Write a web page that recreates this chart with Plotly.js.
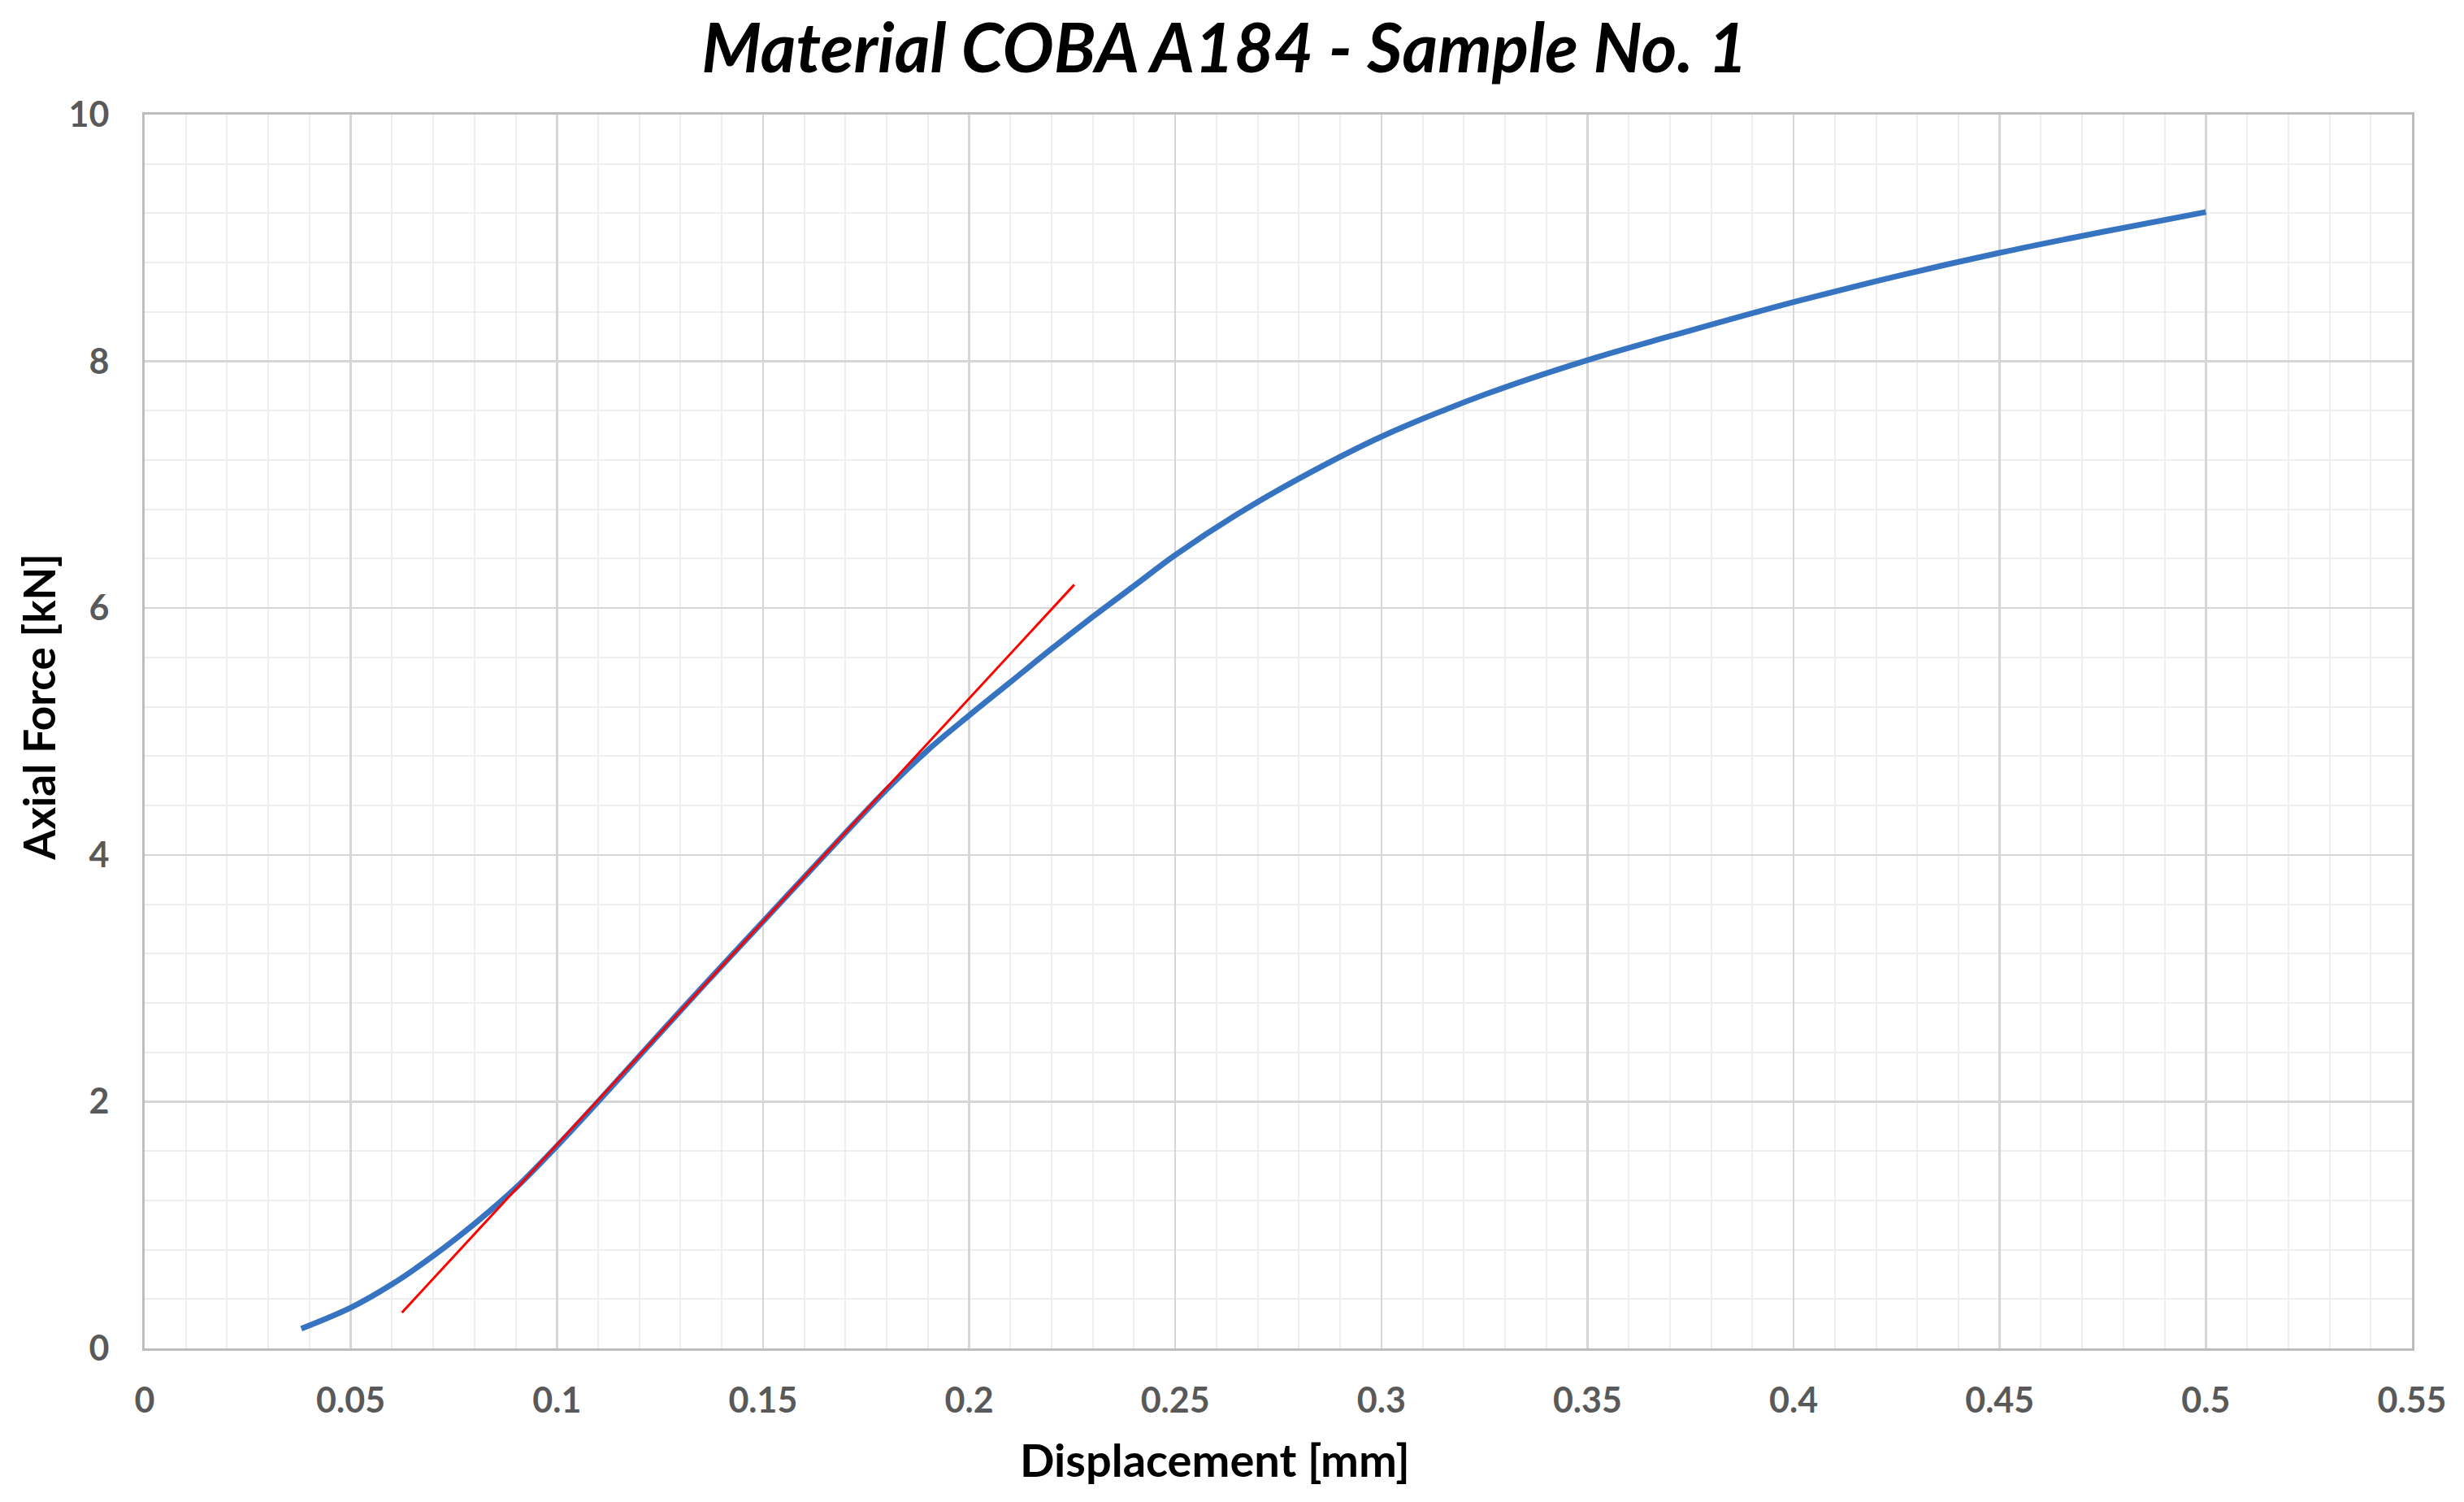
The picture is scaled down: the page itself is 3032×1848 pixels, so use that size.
<!DOCTYPE html>
<html>
<head>
<meta charset="utf-8">
<script src="https://cdn.plot.ly/plotly-3.0.1.min.js"></script>
<style>
html,body{margin:0;padding:0;background:#fff}
#chart{width:3032px;height:1848px}
</style>
</head>
<body>
<div id="chart"></div>
<script>
const disp = [0.038,0.05,0.06,0.07,0.08,0.09,0.10,0.11,0.12,0.135,0.15,0.165,0.18,0.19,0.20,0.21,0.22,0.23,0.24,0.25,0.265,0.28,0.30,0.325,0.35,0.375,0.40,0.425,0.45,0.475,0.50]
const force = [0.16,0.33,0.52,0.75,1.01,1.30,1.64,2.00,2.37,2.92,3.46,4.00,4.53,4.85,5.13,5.40,5.67,5.93,6.18,6.43,6.76,7.05,7.39,7.73,8.01,8.25,8.48,8.69,8.88,9.05,9.21]
// linear fit (red)
const fitX = [0.0624,0.2255]
const fitY = [0.29,6.19]

const xTicks = [0,0.05,0.1,0.15,0.2,0.25,0.3,0.35,0.4,0.45,0.5,0.55]
const xLabels = ['0','0.05','0.1','0.15','0.2','0.25','0.3','0.35','0.4','0.45','0.5','0.55']
const yTicks = [0,2,4,6,8,10]
const yLabels = ['0','2','4','6','8','10']

const font = 'Lato, "Open Sans", sans-serif'

let curve = {
    x: disp, y: force,
    type: 'scatter', mode: 'lines',
    line: {color:'#3674c2', width:7, shape:'spline', smoothing:1},
    hoverinfo: 'skip'
}
let fit = {
    x: fitX, y: fitY,
    type: 'scatter', mode: 'lines',
    line: {color:'#ff0000', width:3},
    hoverinfo: 'skip'
}

let axisCommon = {
    showline: true, mirror: true, linecolor:'#bdbdbd', linewidth:3,
    showgrid: true, gridcolor:'#d6d6d6', gridwidth:2.5,
    zeroline: false, ticks: '',
    tickfont: {family:font, size:43, color:'#595959', weight:'bold'},
    tickmode: 'array'
}

let layout = {
    width:3032, height:1848,
    paper_bgcolor:'#fff', plot_bgcolor:'#fff',
    margin:{l:178, r:64, t:141, b:189},
    showlegend:false,
    title:{
        text:'<b><i>Material COBA A184 - Sample No. 1</i></b>',
        font:{family:font, size:84, color:'#000'},
        x:0.497, xref:'container', y:0.968, yref:'container', yanchor:'middle'
    },
    xaxis: Object.assign({}, axisCommon, {
        range:[0,0.55],
        tickvals:xTicks, ticktext:xLabels,
        ticklabelstandoff:24,
        minor:{dtick:0.01, tick0:0, showgrid:true, gridcolor:'#eeeeee', gridwidth:2}
    }),
    yaxis: Object.assign({}, axisCommon, {
        range:[0,10],
        tickvals:yTicks, ticktext:yLabels,
        ticklabelstandoff:32,
        minor:{dtick:0.4, tick0:0, showgrid:true, gridcolor:'#eeeeee', gridwidth:2}
    }),
    // axis titles sit off-centre in the original, so place them as annotations
    annotations:[
        {text:'<b>Displacement [mm]</b>', xref:'paper', yref:'paper', x:0.472, y:-0.0896,
         xanchor:'center', yanchor:'middle', showarrow:false,
         font:{family:font, size:56, color:'#000'}},
        {text:'<b>Axial Force [kN]</b>', xref:'paper', yref:'paper', x:-0.0466, y:0.52,
         xanchor:'center', yanchor:'middle', showarrow:false, textangle:-90,
         font:{family:font, size:53, color:'#000'}}
    ]
}

Plotly.newPlot(document.getElementById('chart'), [curve, fit], layout, {displayModeBar:false, staticPlot:true})
</script>
</body>
</html>
